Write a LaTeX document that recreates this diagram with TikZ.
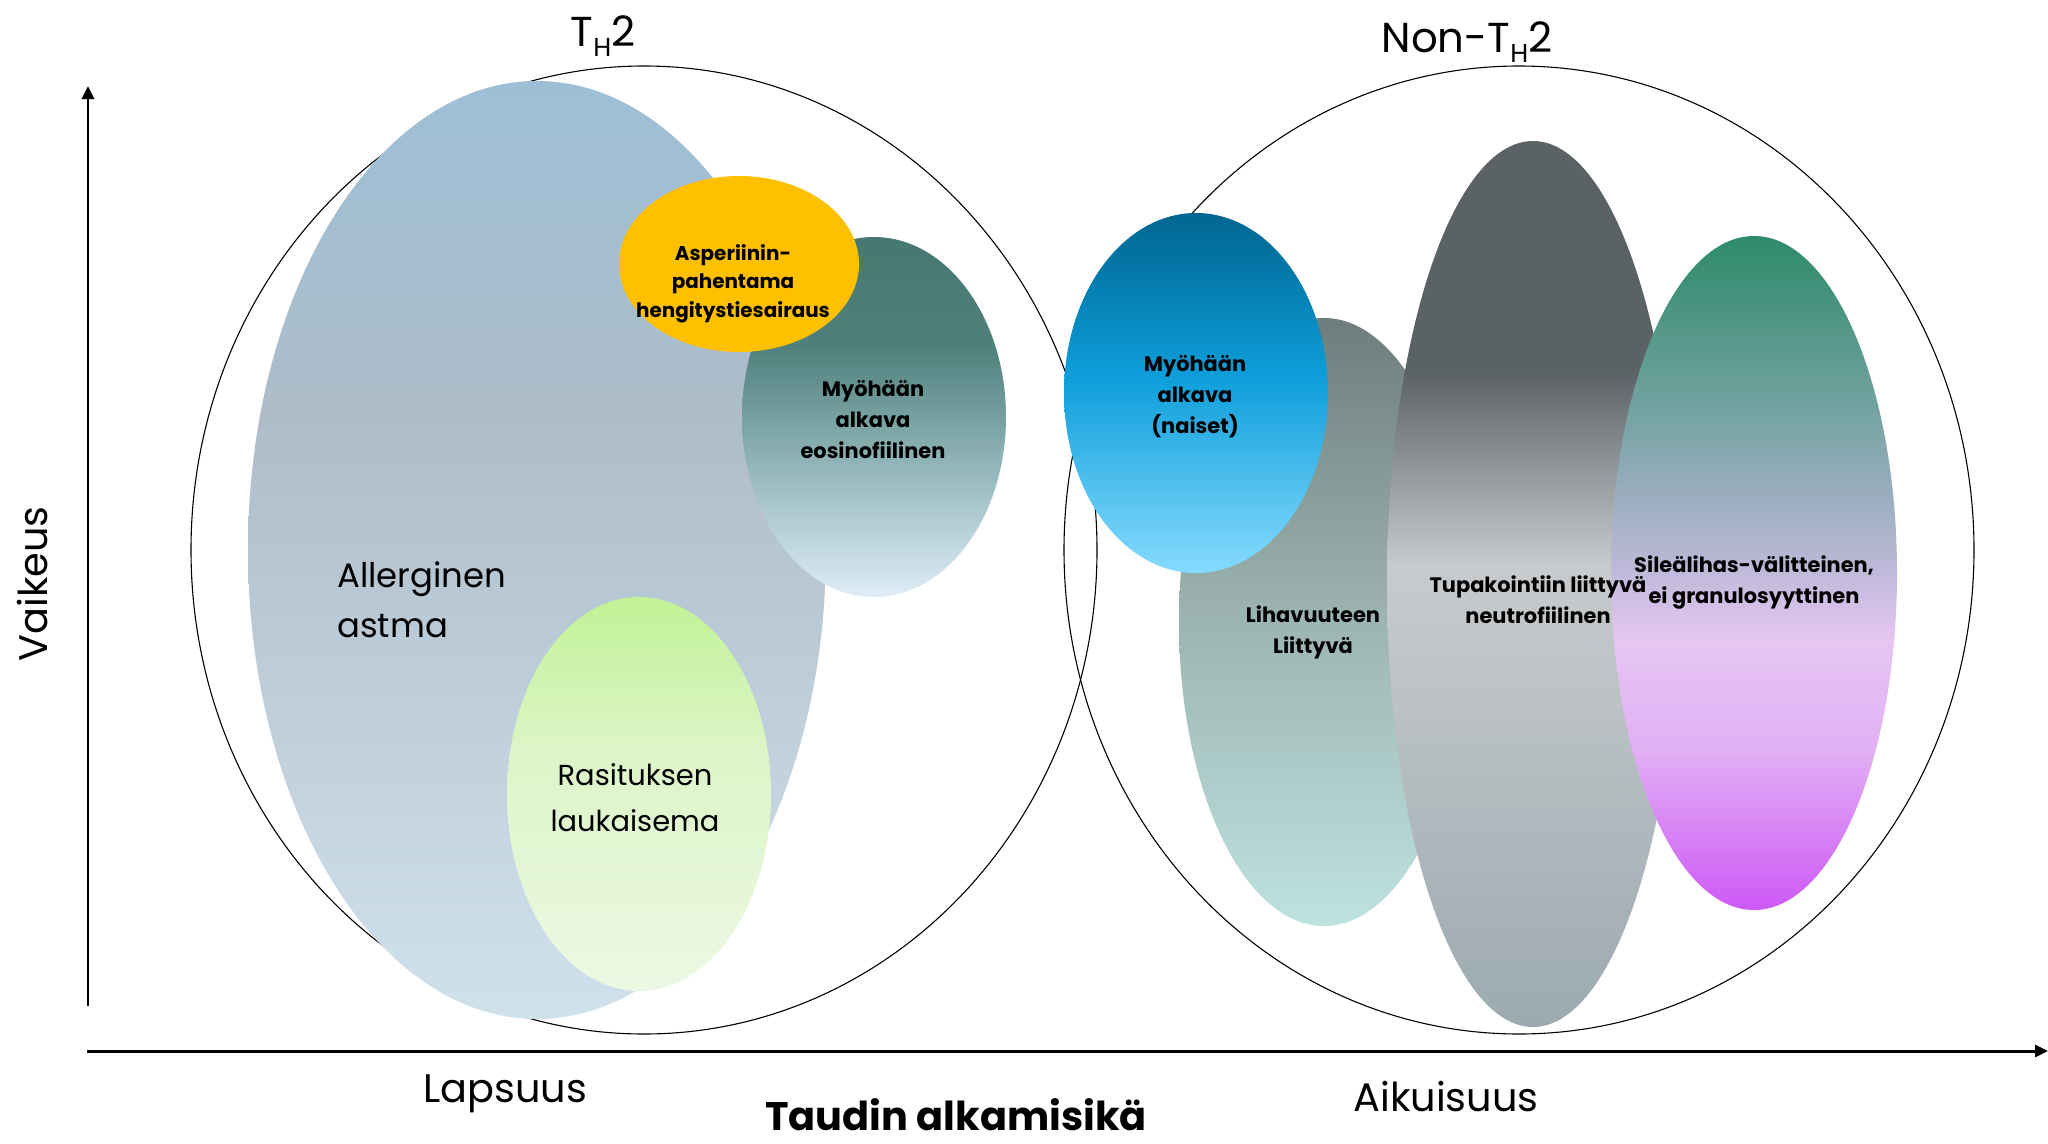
\documentclass[tikz,border=0pt]{standalone}
\usepackage{fontspec}
\setmainfont{Poppins}
\usetikzlibrary{arrows.meta}
\definecolor{astmaA}{HTML}{9DBFD6}
\definecolor{astmaB}{HTML}{AEBDC9}
\definecolor{astmaC}{HTML}{D0E1EE}
\definecolor{eosA}{HTML}{467773}
\definecolor{eosB}{HTML}{4F807C}
\definecolor{eosC}{HTML}{8BB0B3}
\definecolor{eosD}{HTML}{DEEDF8}
\definecolor{rasiA}{HTML}{C1F296}
\definecolor{rasiB}{HTML}{DDF5C8}
\definecolor{rasiC}{HTML}{EBF8E3}
\definecolor{aspiC}{HTML}{FFC000}
\definecolor{lihaA}{HTML}{6D7D7B}
\definecolor{lihaB}{HTML}{9DB5B2}
\definecolor{lihaC}{HTML}{BDE2E0}
\definecolor{naisA}{HTML}{006590}
\definecolor{naisB}{HTML}{0E9FDB}
\definecolor{naisC}{HTML}{86DBFE}
\definecolor{tupaA}{HTML}{5B6266}
\definecolor{tupaB}{HTML}{C8CBCD}
\definecolor{tupaC}{HTML}{9CAAB0}
\definecolor{sileA}{HTML}{2E8A6A}
\definecolor{sileB}{HTML}{74A3A2}
\definecolor{sileC}{HTML}{B2B5D0}
\definecolor{sileD}{HTML}{E6C6F3}
\definecolor{sileE}{HTML}{E2B0F4}
\definecolor{sileF}{HTML}{CE58F6}
\pgfdeclareverticalshading{astmafill}{100bp}{color(0bp)=(astmaC); color(25bp)=(astmaC); color(57bp)=(astmaB); color(75bp)=(astmaA); color(100bp)=(astmaA)}
\pgfdeclareverticalshading{eosfill}{100bp}{color(0bp)=(eosD); color(25bp)=(eosD); color(45bp)=(eosC); color(60bp)=(eosB); color(75bp)=(eosA); color(100bp)=(eosA)}
\pgfdeclareverticalshading{rasifill}{100bp}{color(0bp)=(rasiC); color(25bp)=(rasiC); color(55bp)=(rasiB); color(75bp)=(rasiA); color(100bp)=(rasiA)}
\pgfdeclareverticalshading{lihafill}{100bp}{color(0bp)=(lihaC); color(25bp)=(lihaC); color(50bp)=(lihaB); color(75bp)=(lihaA); color(100bp)=(lihaA)}
\pgfdeclareverticalshading{naisfill}{100bp}{color(0bp)=(naisC); color(25bp)=(naisC); color(52bp)=(naisB); color(75bp)=(naisA); color(100bp)=(naisA)}
\pgfdeclareverticalshading{tupafill}{100bp}{color(0bp)=(tupaC); color(25bp)=(tupaC); color(51bp)=(tupaB); color(62bp)=(tupaA); color(75bp)=(tupaA); color(100bp)=(tupaA)}
\pgfdeclareverticalshading{silefill}{100bp}{color(0bp)=(sileF); color(25bp)=(sileF); color(37bp)=(sileE); color(45bp)=(sileD); color(52bp)=(sileC); color(62bp)=(sileB); color(75bp)=(sileA); color(100bp)=(sileA)}
\newcommand{\thtwo}{T\raisebox{-0.26em}{\scalebox{0.62}{H}}2}

\begin{document}
\begin{tikzpicture}[x=1bp,y=-1bp,
  txt/.style={font=\bfseries\fontsize{21}{31}\selectfont,align=center,anchor=base,inner sep=0pt},
  big/.style={font=\fontsize{40}{46}\selectfont,anchor=base,inner sep=0pt}]
\useasboundingbox (0,0) rectangle (2048,1143);
\draw[line width=1.1] (644,550) ellipse [x radius=453,y radius=484];
\draw[line width=1.1] (1519,550) ellipse [x radius=455,y radius=484];
\shade[shading=astmafill] (537,550) ellipse [x radius=289,y radius=469];
\shade[shading=rasifill] (639,794) ellipse [x radius=132,y radius=197];
\shade[shading=eosfill] (874,417) ellipse [x radius=132,y radius=180];
\fill[aspiC] (739,264) ellipse [x radius=120,y radius=88];
\shade[shading=lihafill] (1324,622) ellipse [x radius=145,y radius=304];
\shade[shading=naisfill] (1196,393) ellipse [x radius=132,y radius=180];
\shade[shading=tupafill] (1533,584) ellipse [x radius=146,y radius=443];
\shade[shading=silefill] (1754,573) ellipse [x radius=143,y radius=337];
\coordinate (ybot) at (88,1006);
\coordinate (ytop) at (88,86);
\coordinate (xleft) at (87,1051);
\coordinate (xright) at (2048,1051);
\draw[line width=3,-{Triangle[length=13bp,width=12bp]}] (ybot) -- (ytop);
\draw[line width=3,-{Triangle[length=13bp,width=12bp]}] (xleft) -- (xright);
\node[big,font=\fontsize{34}{50}\selectfont,align=left,anchor=base west] (astma) at (337,637) {Allerginen\\astma};
\node[big,font=\fontsize{29}{46}\selectfont,align=center] (rasi) at (635,831) {Rasituksen\\laukaisema};
\node[txt,font=\bfseries\fontsize{20}{28.5}\selectfont] (aspi) at (733,317) {Asperiinin-\\pahentama\\hengitystiesairaus};
\node[txt] (eos) at (873,458) {Myöhään\\alkava\\eosinofiilinen};
\node[txt] (nais) at (1195,433) {Myöhään\\alkava\\(naiset)};
\node[txt] (liha) at (1313,653) {Lihavuuteen\\Liittyvä};
\node[txt] (tupa) at (1538,623) {Tupakointiin liittyvä\\neutrofiilinen};
\node[txt] (sile) at (1754,603) {Sileälihas-välitteinen,\\ei granulosyyttinen};
\node[big,font=\fontsize{42}{46}\selectfont] (th2) at (603,46) {\thtwo};
\node[big,font=\fontsize{42}{46}\selectfont] (nonth2) at (1467,52) {Non-\thtwo};
\node[big] (lapsuus) at (505,1102) {Lapsuus};
\node[big] (aikuis) at (1446,1111) {Aikuisuus};
\node[big,font=\bfseries\fontsize{40}{46}\selectfont] (alkamis) at (956,1130) {Taudin alkamisikä};
\node[big,rotate=90,anchor=center] (vaikeus) at (33,584) {Vaikeus};
\end{tikzpicture}
\end{document}
